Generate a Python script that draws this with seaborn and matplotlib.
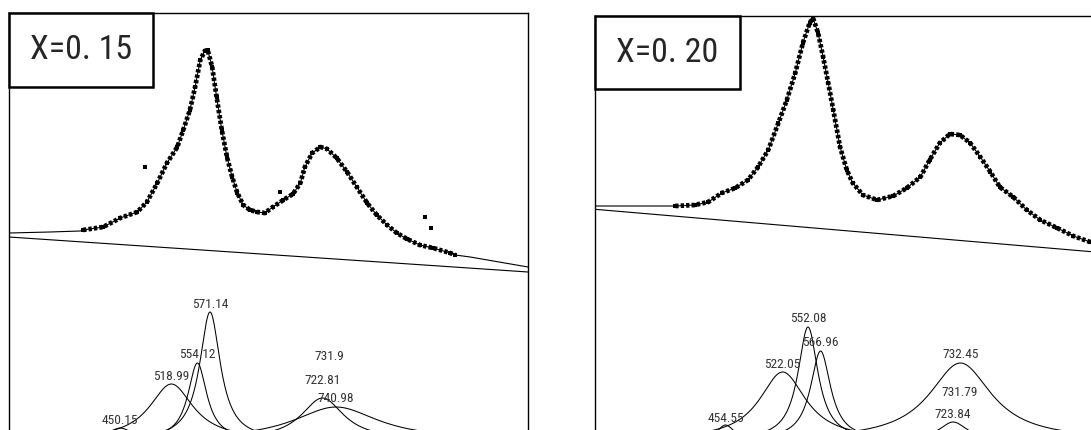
import numpy as np
import pandas as pd
import matplotlib
matplotlib.use("Agg")
import matplotlib.pyplot as plt
from matplotlib.patches import Rectangle
import seaborn as sns

# --- X=0.15 panel: spectrum (wavenumber, intensity a.u.) ---
left_wn = [300, 355, 396, 400, 427, 450, 473, 486, 500, 513, 527, 535, 544, 551,
           558, 564, 568, 574, 580, 587, 594, 601, 608, 616, 625, 635, 645, 656,
           670, 683, 693, 699, 709, 720, 729, 742, 756, 769, 783, 796, 810, 823,
           837, 854, 872, 895, 902, 922, 1000]
left_int = [207, 208, 209, 210, 213, 222, 228, 238, 257, 277, 293, 310, 330, 353,
            380, 389, 390, 373, 343, 310, 283, 263, 247, 235, 230, 228, 227, 233,
            240, 246, 257, 273, 287, 293, 291, 282, 268, 253, 237, 225, 215, 207,
            201, 195, 192, 187, 185, 183, 173]
left_meas_range = (398, 902)
left_out_wn = [483, 666, 861, 869]
left_out_int = [273, 248, 223, 212]
left_base_wn = [300, 1000]
left_base_int = [203, 168]
left_peaks = [450.15, 518.99, 554.12, 571.14, 722.81, 731.9, 740.98]
left_heights = [12, 56, 77, 128, 42, 8, 33]
left_fwhm = [40, 72, 31, 34, 70, 120, 140]
left_label_y = [20, 64, 85, 136, 60, 84, 42]

# --- X=0.20 panel ---
right_wn = [300, 350, 395, 418, 434, 450, 466, 481, 493, 505, 517, 527, 537, 546,
            554, 558, 564, 570, 576, 582, 590, 598, 605, 617, 634, 653, 669, 685,
            696, 708, 720, 732, 744, 756, 768, 779, 795, 811, 827, 847, 866, 886,
            900]
right_int = [234, 234, 234, 235, 238, 247, 252, 260, 273, 290, 317, 340, 367, 397,
             417, 422, 407, 383, 357, 330, 293, 270, 257, 245, 240, 244, 252, 263,
             280, 297, 306, 305, 297, 283, 268, 253, 243, 230, 220, 212, 204, 198,
             195]
right_meas_range = (394, 900)
right_base_wn = [300, 1000]
right_base_int = [230.7, 180.2]
right_peaks = [454.55, 522.05, 552.08, 566.96, 723.84, 731.79, 732.45]
right_heights = [15, 68, 113, 89, 18, 8, 77]
right_fwhm = [25, 67, 29, 29, 40, 100, 90]
right_label_y = [22, 76, 121, 97, 25, 48, 85]

W, H = 1091, 430
NARROW = ["Roboto Condensed", "Liberation Sans Narrow", "DejaVu Sans"]


def lorentz(x, x0, h, fwhm):
    return h / (1 + ((x - x0) / (fwhm / 2)) ** 2)


def draw_panel(ax, wn, inten, meas_range, out_wn, out_int, base_wn, base_int,
               peaks, heights, fwhm, label_y, title, ylim, box_w, box_h):
    df = pd.DataFrame({"wn": wn, "int": inten})
    meas = df[(df.wn >= meas_range[0]) & (df.wn <= meas_range[1])]

    # fitted envelope and baseline
    sns.lineplot(data=df, x="wn", y="int", ax=ax, color="black", lw=0.8,
                 sort=False, estimator=None)
    sns.lineplot(x=base_wn, y=base_int, ax=ax, color="black", lw=0.8,
                 sort=False, estimator=None)

    # measured points: speckled band along the read curve
    ax.plot(meas.wn, meas.int, color="black", lw=3.4,
            linestyle=(0, (0.7, 0.45)))
    sns.scatterplot(data=meas, x="wn", y="int", ax=ax, color="black",
                    marker="s", s=10, linewidth=0)
    if out_wn:
        sns.scatterplot(x=out_wn, y=out_int, ax=ax, color="black",
                        marker="s", s=6, linewidth=0)

    # fitted components
    grid = np.linspace(300, 1000, 1401)
    for x0, h, fw, ly in zip(peaks, heights, fwhm, label_y):
        sns.lineplot(x=grid, y=lorentz(grid, x0, h, fw), ax=ax,
                     color="black", lw=0.75, estimator=None)
        ax.text(x0, ly, str(x0), ha="center", va="center", fontsize=9.6,
                color="#333333", family=NARROW, fontstretch="condensed")

    ax.set_xlim(300, 1000)
    ax.set_ylim(*ylim)
    ax.set_xticks([])
    ax.set_yticks([])
    ax.set_xlabel("")
    ax.set_ylabel("")
    for sp in ax.spines.values():
        sp.set_color("black")
        sp.set_linewidth(1.0)

    ax.add_patch(Rectangle((0, 1 - box_h), box_w, box_h, transform=ax.transAxes,
                           facecolor="white", edgecolor="black", lw=1.8,
                           zorder=5, clip_on=False))
    ax.text(box_w / 2, 1 - box_h / 2, title, transform=ax.transAxes,
            ha="center", va="center", fontsize=24.5, zorder=6,
            family=NARROW, fontstretch="condensed")


sns.set_style("white")
plt.rcParams["font.family"] = NARROW

fig = plt.figure(figsize=(W / 100, H / 100), dpi=100)
ax1 = fig.add_axes([9 / W, -15 / H, 519 / W, 432 / H])
ax2 = fig.add_axes([595 / W, -15 / H, 591.5 / W, 429 / H])

draw_panel(ax1, left_wn, left_int, left_meas_range, left_out_wn, left_out_int,
           left_base_wn, left_base_int, left_peaks, left_heights, left_fwhm,
           left_label_y, "X=0. 15", (-5, 427), 144 / 519, 74 / 432)
draw_panel(ax2, right_wn, right_int, right_meas_range, [], [],
           right_base_wn, right_base_int, right_peaks, right_heights, right_fwhm,
           right_label_y, "X=0. 20", (-5, 424), 145 / 591.5, 73 / 429)

fig.savefig("out.png", dpi=100)
